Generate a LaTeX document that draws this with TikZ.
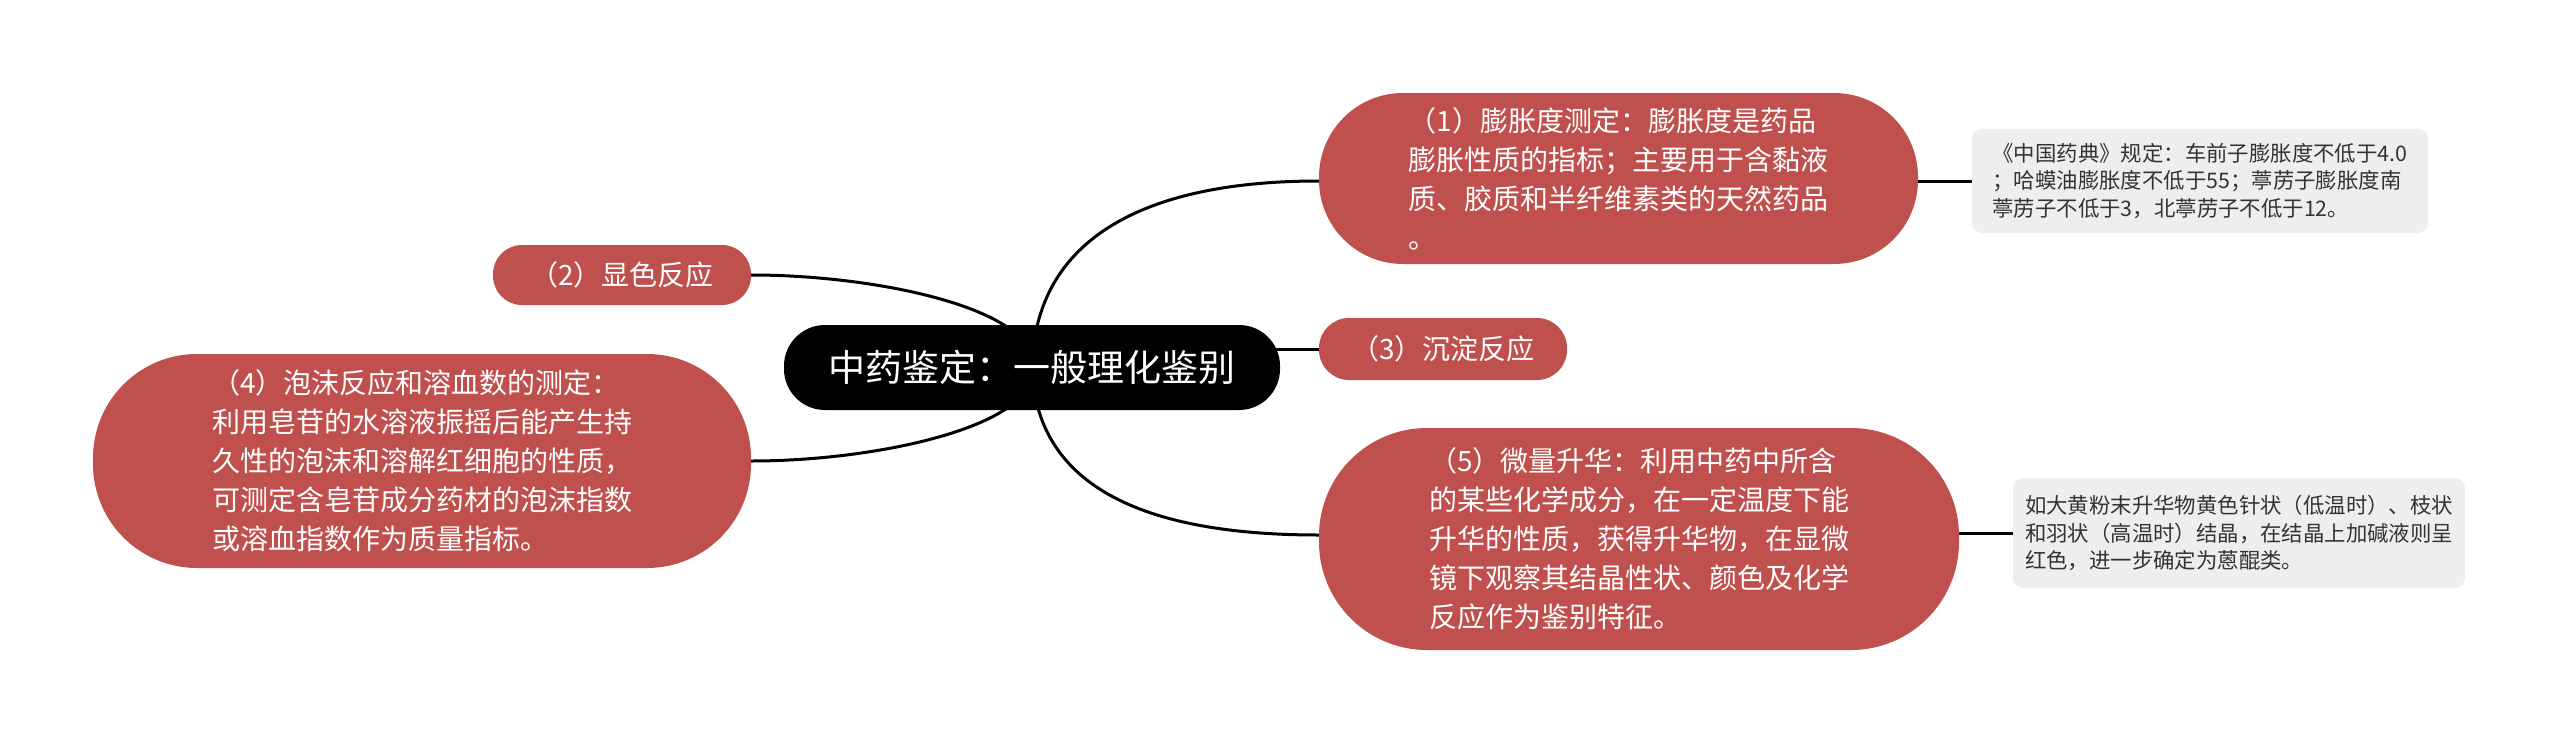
\documentclass[tikz,border=0pt]{standalone}
\usepackage{fontspec}
\setmainfont{Noto Sans CJK SC}
\newfontfamily\cjk{Noto Sans CJK SC}
\definecolor{nodered}{HTML}{C0504D}
\definecolor{notegray}{HTML}{EEEEEE}
\definecolor{notetext}{HTML}{333333}
\pgfdeclarelayer{bg}
\pgfsetlayers{bg,main}
\tikzset{
  rootbox/.style={fill=black, text=white, inner sep=0pt, align=center,
    font=\cjk\fontsize{37pt}{44pt}\selectfont},
  redbox/.style={fill=nodered, text=white, inner sep=0pt, align=left,
    font=\cjk\fontsize{28pt}{39pt}\selectfont},
  notebox/.style={fill=notegray, text=notetext, inner sep=0pt, align=left,
    rounded corners=10pt, font=\cjk\fontsize{21.4pt}{27.8pt}\selectfont},
  link/.style={draw=black, line width=3pt},
}
\begin{document}
\begin{tikzpicture}[x=1pt,y=-1pt]
\useasboundingbox (0,0) rectangle (2560,736);
\node[rootbox, minimum width=496pt, minimum height=85pt, rounded corners=41pt] (C) at (1032,367.5) {中药鉴定：一般理化鉴别};
\node[redbox, minimum width=599pt, minimum height=171pt, rounded corners=84pt] (n1) at (1618.5,178.5) {（1）膨胀度测定：膨胀度是药品\\膨胀性质的指标；主要用于含黏液\\质、胶质和半纤维素类的天然药品\\。};
\node[redbox, minimum width=258pt, minimum height=60pt, rounded corners=29pt] (n2) at (622,275) {（2）显色反应};
\node[redbox, minimum width=248pt, minimum height=62pt, rounded corners=30pt] (n3) at (1443,349) {（3）沉淀反应};
\node[redbox, minimum width=658pt, minimum height=214pt, rounded corners=104pt] (n4) at (422,461) {（4）泡沫反应和溶血数的测定：\\利用皂苷的水溶液振摇后能产生持\\久性的泡沫和溶解红细胞的性质，\\可测定含皂苷成分药材的泡沫指数\\或溶血指数作为质量指标。};
\node[redbox, minimum width=640pt, minimum height=222pt, rounded corners=108pt] (n5) at (1639,539) {（5）微量升华：利用中药中所含\\的某些化学成分，在一定温度下能\\升华的性质，获得升华物，在显微\\镜下观察其结晶性状、颜色及化学\\反应作为鉴别特征。};
\node[notebox, minimum width=456pt, minimum height=104pt] (m1) at (2200,181) {《中国药典》规定：车前子膨胀度不低于4.0\\；哈蟆油膨胀度不低于55；葶苈子膨胀度南\\葶苈子不低于3，北葶苈子不低于12。};
\node[notebox, minimum width=452pt, minimum height=110pt] (m2) at (2239,533) {如大黄粉末升华物黄色针状（低温时）、枝状\\和羽状（高温时）结晶，在结晶上加碱液则呈\\红色，进一步确定为蒽醌类。};
\begin{pgfonlayer}{bg}
\draw[link] (C.center) .. controls (1035,235) and (1150,181) .. (n1.west |- 0,181);
\draw[link] (C.center) .. controls (1040,310) and (880,275) .. (n2.east);
\draw[link] (n3.west) -- (n3.west -| C.center);
\draw[link] (C.center) .. controls (1040,425) and (880,461) .. (n4.east);
\draw[link] (C.center) .. controls (1036,490) and (1150,535) .. (n5.west |- 0,535);
\draw[link] (m1.west) -- (m1.west -| n1.center);
\draw[link] (m2.west) -- (m2.west -| n5.center);
\end{pgfonlayer}
\end{tikzpicture}
\end{document}
